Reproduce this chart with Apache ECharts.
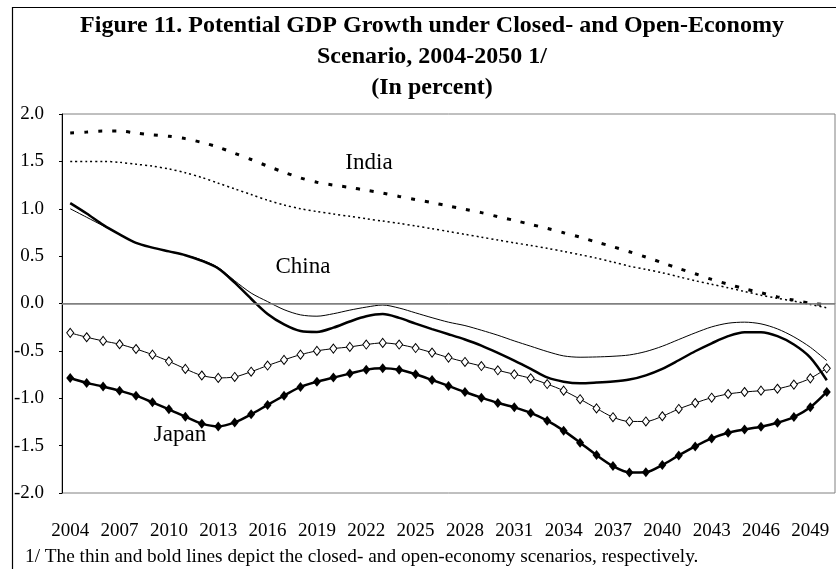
<!DOCTYPE html>
<html>
<head>
<meta charset="utf-8">
<script src="https://cdn.jsdelivr.net/npm/echarts@6/dist/echarts.min.js"></script>
<style>
  html, body { margin: 0; padding: 0; background: #fff; }
  #chart { width: 836px; height: 569px; }
</style>
</head>
<body>
<div id="chart"></div>
<script>
  // years on the category axis, 2004-2050
  const years = ['2004','2005','2006','2007','2008','2009','2010','2011','2012','2013',
    '2014','2015','2016','2017','2018','2019','2020','2021','2022','2023',
    '2024','2025','2026','2027','2028','2029','2030','2031','2032','2033',
    '2034','2035','2036','2037','2038','2039','2040','2041','2042','2043',
    '2044','2045','2046','2047','2048','2049','2050'];

  // thin = closed economy, bold = open economy (percent)
  const indiaClosed = [1.50,1.50,1.50,1.49,1.47,1.45,1.42,1.38,1.33,1.27,
    1.21,1.15,1.09,1.04,1.00,0.97,0.945,0.92,0.895,0.87,
    0.846,0.818,0.79,0.76,0.73,0.70,0.67,0.64,0.613,0.582,
    0.55,0.515,0.479,0.437,0.394,0.36,0.324,0.282,0.24,0.203,
    0.166,0.127,0.088,0.055,0.025,-0.01,-0.046];
  const indiaOpen = [1.80,1.81,1.82,1.82,1.80,1.78,1.765,1.74,1.70,1.65,
    1.585,1.52,1.45,1.385,1.325,1.28,1.25,1.225,1.195,1.165,
    1.13,1.096,1.064,1.029,0.994,0.959,0.916,0.877,0.835,0.793,
    0.747,0.70,0.648,0.599,0.546,0.49,0.43,0.37,0.314,0.254,
    0.204,0.155,0.113,0.07,0.035,0.004,-0.014];
  const chinaClosed = [1.00,0.91,0.82,0.73,0.64,0.59,0.55,0.51,0.46,0.38,
    0.24,0.11,0.02,-0.065,-0.12,-0.134,-0.108,-0.07,-0.038,-0.016,
    -0.048,-0.099,-0.15,-0.197,-0.233,-0.282,-0.335,-0.395,-0.451,-0.507,
    -0.553,-0.567,-0.564,-0.557,-0.543,-0.507,-0.451,-0.38,-0.31,-0.247,
    -0.208,-0.197,-0.215,-0.268,-0.352,-0.462,-0.603];
  const chinaOpen = [1.06,0.95,0.83,0.73,0.64,0.59,0.55,0.51,0.45,0.37,
    0.22,0.05,-0.11,-0.22,-0.29,-0.30,-0.255,-0.19,-0.135,-0.112,
    -0.152,-0.213,-0.27,-0.324,-0.38,-0.444,-0.521,-0.603,-0.69,-0.78,
    -0.825,-0.842,-0.835,-0.824,-0.803,-0.758,-0.69,-0.599,-0.504,-0.42,
    -0.345,-0.303,-0.303,-0.345,-0.433,-0.571,-0.81];
  const japanClosed = [-0.31,-0.356,-0.395,-0.43,-0.48,-0.54,-0.61,-0.69,-0.76,-0.785,
    -0.775,-0.72,-0.655,-0.595,-0.54,-0.50,-0.476,-0.458,-0.433,-0.416,
    -0.433,-0.47,-0.518,-0.571,-0.617,-0.66,-0.705,-0.747,-0.79,-0.85,
    -0.92,-1.01,-1.107,-1.20,-1.245,-1.245,-1.19,-1.113,-1.05,-0.994,
    -0.955,-0.934,-0.92,-0.90,-0.856,-0.79,-0.684];
  const japanOpen = [-0.786,-0.838,-0.877,-0.92,-0.973,-1.043,-1.117,-1.195,-1.268,-1.297,
    -1.255,-1.17,-1.07,-0.973,-0.88,-0.825,-0.782,-0.74,-0.698,-0.684,
    -0.70,-0.747,-0.807,-0.87,-0.934,-0.994,-1.05,-1.096,-1.155,-1.237,
    -1.342,-1.469,-1.60,-1.716,-1.783,-1.78,-1.705,-1.603,-1.508,-1.424,
    -1.364,-1.329,-1.30,-1.258,-1.198,-1.096,-0.934];

  const titleLines = [
    'Figure 11. Potential GDP Growth under Closed- and Open-Economy',
    'Scenario, 2004-2050 1/',
    '(In percent)'
  ];
  const footnote = '1/ The thin and bold lines depict the closed- and open-economy scenarios, respectively.';

  const FONT = 'Liberation Serif, Times New Roman, serif';

  const chart = echarts.init(document.getElementById('chart'));

  chart.setOption({
    animation: false,
    backgroundColor: '#fff',
    grid: {
      left: 62,
      right: 1,
      top: 114,
      bottom: 76,
      show: true,
      borderColor: '#808080',
      borderWidth: 1
    },
    xAxis: {
      type: 'category',
      data: years,
      boundaryGap: true,
      axisLine: { show: true, lineStyle: { color: '#808080', width: 1 } },
      axisTick: { show: false },
      axisLabel: {
        interval: 2,
        margin: 29,
        fontFamily: FONT,
        fontSize: 19,
        color: '#000'
      },
      splitLine: { show: false }
    },
    yAxis: {
      type: 'value',
      min: -2,
      max: 2,
      interval: 0.5,
      axisLine: { show: true, lineStyle: { color: '#000', width: 1 } },
      axisTick: { show: true, length: 3, lineStyle: { color: '#000' } },
      axisLabel: {
        margin: 18,
        fontFamily: FONT,
        fontSize: 19,
        color: '#000',
        formatter: function (v) { return v.toFixed(1); }
      },
      splitLine: { show: false }
    },
    series: [
      {
        name: 'India closed',
        type: 'line',
        data: indiaClosed,
        smooth: 0.3,
        symbol: 'none',
        lineStyle: { color: '#000', width: 1.5, type: [2, 3] },
        // horizontal line at zero
        markLine: {
          silent: true,
          symbol: 'none',
          label: { show: false },
          lineStyle: { color: '#808080', width: 1.5, type: 'solid' },
          data: [{ yAxis: 0 }]
        }
      },
      {
        name: 'India open',
        type: 'line',
        data: indiaOpen,
        smooth: 0.3,
        symbol: 'none',
        lineStyle: { color: '#000', width: 3, type: [4, 10] }
      },
      {
        name: 'China closed',
        type: 'line',
        data: chinaClosed,
        smooth: 0.3,
        symbol: 'none',
        lineStyle: { color: '#000', width: 1 }
      },
      {
        name: 'China open',
        type: 'line',
        data: chinaOpen,
        smooth: 0.3,
        symbol: 'none',
        lineStyle: { color: '#000', width: 2.5 }
      },
      {
        name: 'Japan open',
        type: 'line',
        data: japanOpen,
        smooth: 0.3,
        symbol: 'diamond',
        symbolSize: [8, 10],
        itemStyle: { color: '#000' },
        lineStyle: { color: '#000', width: 2.5 }
      },
      {
        name: 'Japan closed',
        type: 'line',
        data: japanClosed,
        smooth: 0.3,
        symbol: 'diamond',
        symbolSize: [7, 9],
        itemStyle: { color: '#fff', borderColor: '#000', borderWidth: 1 },
        lineStyle: { color: '#000', width: 1 }
      }
    ],
    graphic: [
      // outer frame of the figure
      {
        type: 'rect',
        shape: { x: 12.5, y: 7.5, width: 900, height: 700 },
        style: { fill: null, stroke: '#000', lineWidth: 1.2 },
        silent: true,
        z: -1
      },
      {
        type: 'text', x: 432, y: 26,
        style: { text: titleLines[0], font: 'bold 24px ' + FONT, fill: '#000', textAlign: 'center', textVerticalAlign: 'middle' }
      },
      {
        type: 'text', x: 432, y: 57,
        style: { text: titleLines[1], font: 'bold 24px ' + FONT, fill: '#000', textAlign: 'center', textVerticalAlign: 'middle' }
      },
      {
        type: 'text', x: 432, y: 88,
        style: { text: titleLines[2], font: 'bold 24px ' + FONT, fill: '#000', textAlign: 'center', textVerticalAlign: 'middle' }
      },
      {
        type: 'text', x: 369, y: 163,
        style: { text: 'India', font: '23px ' + FONT, fill: '#000', textAlign: 'center', textVerticalAlign: 'middle' }
      },
      {
        type: 'text', x: 303, y: 267,
        style: { text: 'China', font: '23px ' + FONT, fill: '#000', textAlign: 'center', textVerticalAlign: 'middle' }
      },
      {
        type: 'text', x: 180, y: 435,
        style: { text: 'Japan', font: '23px ' + FONT, fill: '#000', textAlign: 'center', textVerticalAlign: 'middle' }
      },
      {
        type: 'text', x: 25, y: 557,
        style: { text: footnote, font: '19.3px ' + FONT, fill: '#000', textAlign: 'left', textVerticalAlign: 'middle' }
      }
    ]
  });
</script>
</body>
</html>
